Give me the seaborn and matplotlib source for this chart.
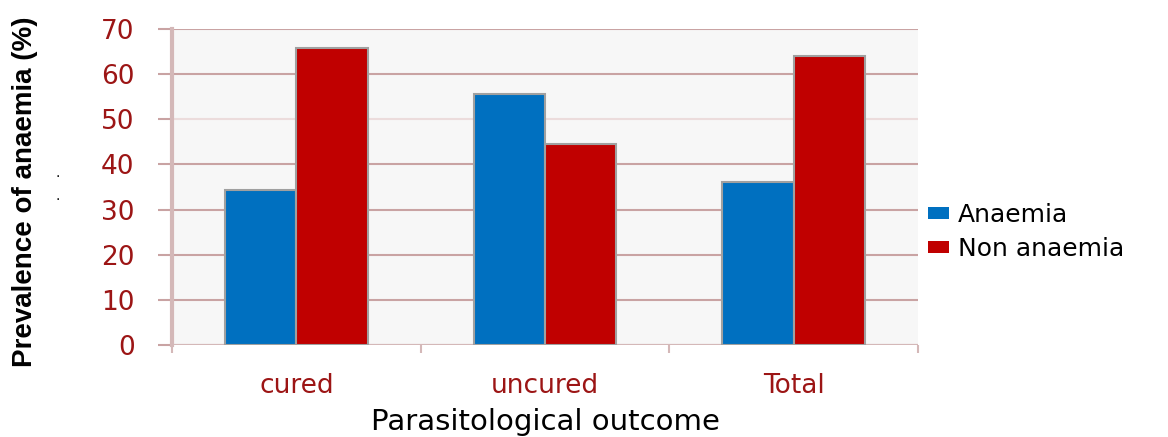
import matplotlib
matplotlib.use("Agg")
import matplotlib.pyplot as plt
import seaborn as sns
import pandas as pd
from matplotlib.patches import Patch
from matplotlib.ticker import FixedLocator

# Prevalence of anaemia by parasitological outcome (%)
outcomes = ["cured", "uncured", "Total"]
anaemia = [34.3, 55.5, 36.0]
non_anaemia = [65.7, 44.5, 64.0]
groups = ["Anaemia", "Non anaemia"]
y_ticks = [0, 10, 20, 30, 40, 50, 60, 70]

df = pd.DataFrame({
    "outcome": outcomes * 2,
    "value": anaemia + non_anaemia,
    "group": [groups[0]] * len(outcomes) + [groups[1]] * len(outcomes),
})

sns.set_theme(style="white")
plt.rcParams["font.family"] = ["DejaVu Sans"]

fig = plt.figure(figsize=(11.68, 4.37), dpi=100)
ax = fig.add_axes([172 / 1168, 1 - 345 / 437, (918 - 172) / 1168, (345 - 29) / 437])
ax.set_facecolor("#f7f7f7")

palette = {"Anaemia": "#0070c0", "Non anaemia": "#c00000"}
sns.barplot(data=df, x="outcome", y="value", hue="group", order=outcomes,
            hue_order=groups, palette=palette, width=0.575, gap=0,
            edgecolor="#a0a0a0", linewidth=1.5, saturation=1, ax=ax,
            legend=False, zorder=3)

ax.set_xlim(-0.5, 2.5)
ax.set_ylim(0, 70)
ax.set_yticks(y_ticks)

grid_c = "#c9a3a3"
tick_red = "#9c1515"
ax.yaxis.grid(True, color=grid_c, linewidth=1.5, zorder=0)
ax.xaxis.grid(False)
ax.set_axisbelow(True)
ax.get_ygridlines()[5].set_color("#ecdcdc")

for side in ["top", "right", "bottom"]:
    ax.spines[side].set_visible(False)
ax.spines["left"].set_color("#d4b8b8")
ax.spines["left"].set_linewidth(3)
ax.spines["left"].set_bounds(0, 70)

ax.tick_params(axis="y", which="major", length=10, width=1.5, color=grid_c,
               labelcolor=tick_red, labelsize=19, pad=17, left=True)
ax.tick_params(axis="x", which="major", length=0, labelcolor=tick_red,
               labelsize=19, pad=20)
ax.xaxis.set_minor_locator(FixedLocator([-0.5, 0.5, 1.5, 2.5]))
ax.tick_params(axis="x", which="minor", length=6, width=1.5, color="#d4b8b8",
               bottom=True, direction="out")
ax.axhline(0, color="#d4b8b8", linewidth=1.5, zorder=2)

ax.set_xlabel("Parasitological outcome", fontsize=21, color="black", labelpad=7)
ax.set_ylabel("Prevalence of anaemia (%)", fontsize=20, fontweight="bold",
              family=["Liberation Sans", "DejaVu Sans"], color="black")
ax.yaxis.set_label_coords(-0.18, 0.484)

# small marks beside the axis title
fig.text(58 / 1168, 1 - 173 / 437, ".", fontsize=10, ha="center", va="center", color="black")
fig.text(58 / 1168, 1 - 196 / 437, ".", fontsize=10, ha="center", va="center", color="black")

handles = [Patch(facecolor=palette[g], edgecolor="none") for g in groups]
leg = fig.legend(handles, groups, loc="center left",
                 bbox_to_anchor=(928 / 1168, 1 - 232 / 437), frameon=False,
                 fontsize=18, handlelength=0.85, handleheight=0.4,
                 handletextpad=0.35, labelspacing=0.4, borderpad=0, borderaxespad=0)
for t in leg.get_texts():
    t.set_color("black")

fig.savefig("out.png", dpi=100)
